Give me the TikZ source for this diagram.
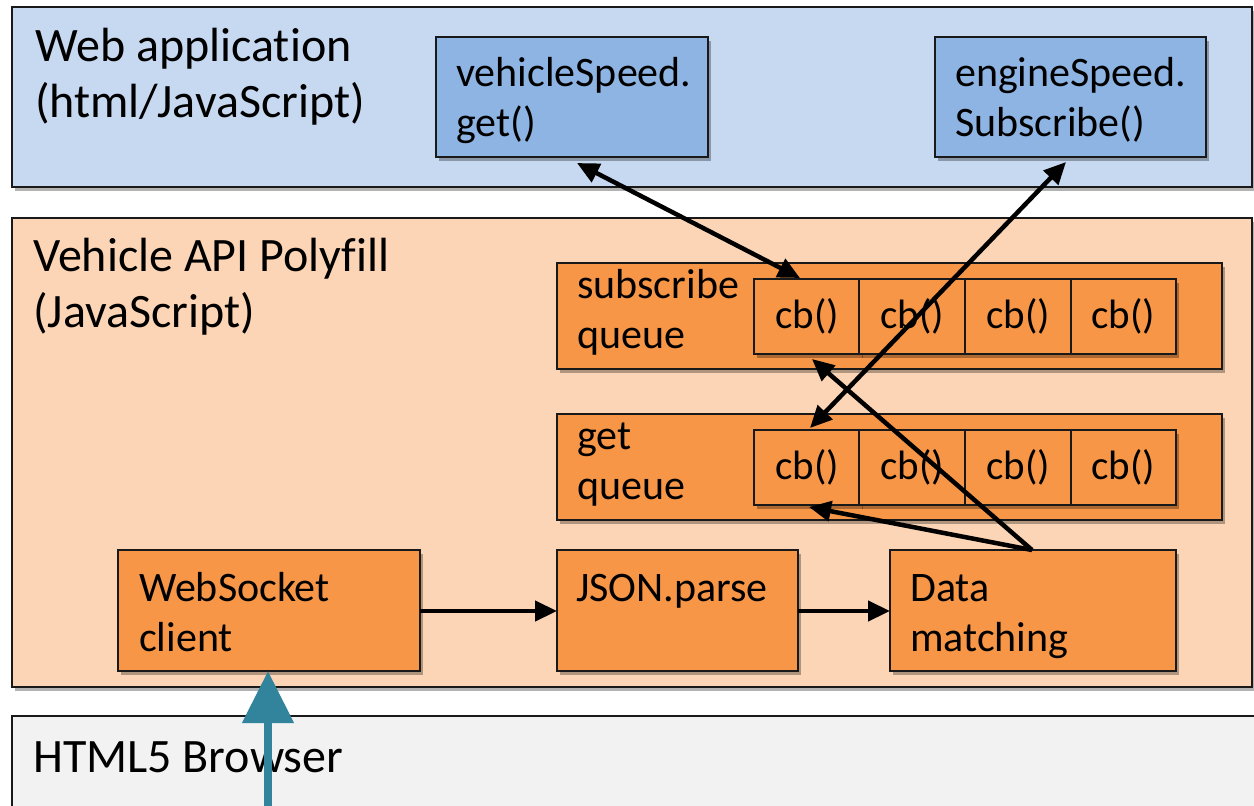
\documentclass[tikz,border=0pt]{standalone}
\usepackage{fontspec}
\setmainfont{Carlito}[Ligatures={NoCommon}]
\usetikzlibrary{shadows,arrows.meta}
\definecolor{appblue}{HTML}{C6D9F1}
\definecolor{boxblue}{HTML}{8EB4E3}
\definecolor{apiorange}{HTML}{FBD5B5}
\definecolor{boxorange}{HTML}{F79646}
\definecolor{browsergray}{HTML}{F2F2F2}
\definecolor{arrowteal}{HTML}{31849B}
\begin{document}
\begin{tikzpicture}[x=1pt,y=-1pt,
  shad/.style={drop shadow={shadow xshift=3pt,shadow yshift=-4pt,opacity=.3,fill=black}},
  layer/.style={draw=black!90,line width=1.8pt,anchor=north west,inner sep=0pt,outer sep=0pt,shad},
  box/.style={draw=black!90,line width=1.8pt,anchor=north west,inner sep=0pt,outer sep=0pt,shad},
  cbbox/.style={draw=black!90,line width=1.8pt,fill=boxorange,inner sep=0pt,outer sep=0pt,minimum height=75pt,anchor=north west,font=\fontsize{41}{48}\selectfont,shad},
  big/.style={anchor=base west,align=left,inner sep=0pt,font=\fontsize{48}{56}\selectfont},
  txt/.style={anchor=base west,align=left,inner sep=0pt,font=\fontsize{42}{50}\selectfont},
  arr/.style={line width=4.5pt,-{Triangle[length=22pt,width=20pt]}},
  darr/.style={line width=4.5pt,{Triangle[length=22pt,width=20pt]}-{Triangle[length=22pt,width=20pt]}}
]
\useasboundingbox (0,0) rectangle (1254,806);
% layers
\node[layer,fill=browsergray,minimum width=1260pt,minimum height=130pt] (browser) at (12,716) {};
\node[layer,fill=apiorange,minimum width=1240pt,minimum height=469pt] (api) at (12,218) {};
\node[layer,fill=appblue,minimum width=1240pt,minimum height=180pt] (app) at (12,7) {};
\node[big] (browsert) at (33,772) {HTML5 Browser};
\node[big] (apit) at (33,327) {Vehicle API Polyfill\\(JavaScript)};
\node[big] (appt) at (35,117) {Web application\\(html/JavaScript)};
% web app boxes
\node[box,fill=boxblue,minimum width=272pt,minimum height=120pt] (vs) at (436,37) {};
\node[box,fill=boxblue,minimum width=271pt,minimum height=120pt] (es) at (935,37) {};
\node[txt] (vst) at (456,136) {vehicleSpeed.\\get()};
\node[txt] (est) at (955,136) {engineSpeed.\\Subscribe()};
% queues
\node[box,fill=boxorange,minimum width=665pt,minimum height=106pt] (sq) at (557,263) {};
\node[txt] (sqt) at (577,348) {subscribe\\queue};
\node[cbbox,minimum width=106pt] (s1) at (754,279) {cb()};
\node[cbbox,minimum width=106pt] (s2) at (859,279) {cb()};
\node[cbbox,minimum width=106pt] (s3) at (965,279) {cb()};
\node[cbbox,minimum width=105pt] (s4) at (1071,279) {cb()};
\node[box,fill=boxorange,minimum width=665pt,minimum height=106pt] (gq) at (557,414) {};
\node[txt] (gqt) at (577,499) {get\\queue};
\node[cbbox,minimum width=106pt] (g1) at (754,430) {cb()};
\node[cbbox,minimum width=106pt] (g2) at (859,430) {cb()};
\node[cbbox,minimum width=106pt] (g3) at (965,430) {cb()};
\node[cbbox,minimum width=105pt] (g4) at (1071,430) {cb()};
% bottom boxes
\node[box,fill=boxorange,minimum width=302pt,minimum height=121pt] (ws) at (118,550) {};
\node[txt] (wst) at (139,651) {WebSocket\\client};
\node[box,fill=boxorange,minimum width=241pt,minimum height=121pt] (js) at (557,550) {};
\node[txt] (jst) at (576,601) {JSON.parse};
\node[box,fill=boxorange,minimum width=286pt,minimum height=121pt] (dm) at (890,550) {};
\node[txt] (dmt) at (910,651) {Data\\matching};
% connectors
\coordinate (vsend) at (577,163);
\coordinate (s1top) at (800,278);
\coordinate (esend) at (1066,162);
\coordinate (g1top) at (810,428);
\coordinate (dmtop) at (1032,550);
\coordinate (s1bot) at (812,359);
\coordinate (g1bot) at (809,507);
\draw[darr] (vsend) -- (s1top);
\draw[darr] (esend) -- (g1top);
\draw[arr] (dmtop) -- (s1bot);
\draw[arr] (dmtop) -- (g1bot);
\draw[arr] (ws.east |- 0,611) -- (js.west |- 0,611);
\draw[arr] (js.east |- 0,611) -- (dm.west |- 0,611);
\coordinate (tealstart) at (268,806);
\draw[line width=8pt,draw=arrowteal,-{Triangle[length=52pt,width=50pt,fill=arrowteal]}] (tealstart) -- (ws.south -| tealstart);
\end{tikzpicture}
\end{document}
